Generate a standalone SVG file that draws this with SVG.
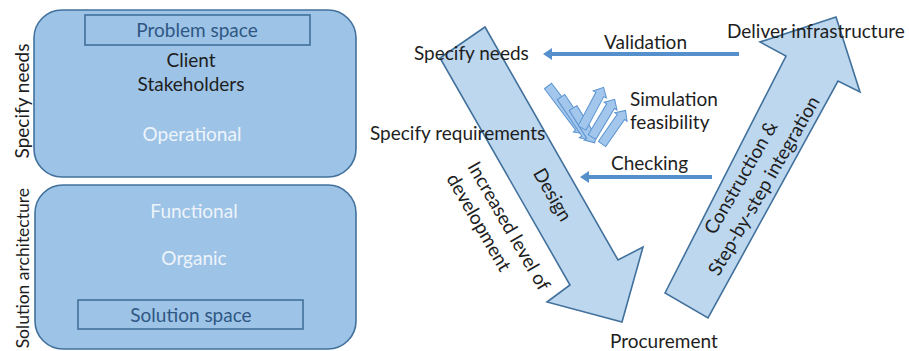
<svg xmlns="http://www.w3.org/2000/svg" width="909" height="351" viewBox="0 0 909 351">
<style>
text{font-family:Lato,"Liberation Sans",sans-serif;font-size:19px;fill:#1e1e1e}
.box{fill:#9dc3e6;stroke:#41719c;stroke-width:1.6}
.inner{fill:none;stroke:#41719c;stroke-width:1.6}
.dark{fill:#2f5783}
.white{fill:#eef4fb}
.big{fill:#bdd7ee;stroke:#41719c;stroke-width:1.6;stroke-linejoin:miter}
.small{fill:#a3c7ec;stroke:#5b93d0;stroke-width:1}
.conn{stroke:#5590cc;stroke-width:4;fill:none}
.mid{text-anchor:middle}
.side2{font-size:17.5px}
</style>
<defs>
<marker id="ah" markerUnits="userSpaceOnUse" markerWidth="9" markerHeight="12" refX="0" refY="6" orient="auto" viewBox="0 0 9 12">
<path d="M0,0 L9,6 L0,12 Z" fill="#5590cc"/>
</marker>
</defs>
<g id="needs-box">
<rect class="box" x="34" y="10" width="322" height="167" rx="28"/>
<rect class="inner" x="85" y="15" width="225" height="30"/>
<text class="mid dark" x="197" y="37">Problem space</text>
<text class="mid" x="191" y="67">Client</text>
<text class="mid" x="191" y="91">Stakeholders</text>
<text class="mid white" x="192" y="141">Operational</text>
<text class="mid" transform="translate(29,101) rotate(-90)">Specify needs</text>
</g>
<g id="solution-box">
<rect class="box" x="35" y="185" width="321" height="164" rx="28"/>
<text class="mid white" x="194" y="218">Functional</text>
<text class="mid white" x="194" y="265">Organic</text>
<rect class="inner" x="78" y="300" width="225" height="29"/>
<text class="mid dark" x="191" y="322">Solution space</text>
<text class="side2" text-anchor="end" transform="translate(29,188) rotate(-90)">Solution architecture</text>
</g>
<g id="design-arrow">
<polygon class="big" points="485,27 618,260 643,247 622,322 547,302 570,285 440,58"/>
<text transform="translate(547,198) rotate(60)" class="mid">Design</text>
<text transform="translate(467,166.5) rotate(60)">Increased level of</text>
<text transform="translate(446,178.5) rotate(60)">development</text>
</g>
<g id="construction-arrow">
<polygon class="big" points="665,293 786,56 760,42 836,17 860,92 838,81 708,318"/>
<text class="mid" transform="translate(746.6,180.8) rotate(-60)">Construction &amp;</text>
<text class="mid" transform="translate(769.6,189) rotate(-60)">Step-by-step integration</text>
</g>
<g id="simulation">
<path class="small" transform="translate(548,86) rotate(53)" d="M0,-4.5 H52 V-7.5 L60,0 L52,7.5 V4.5 H0 Z"/>
<path class="small" transform="translate(561,97) rotate(56)" d="M0,-4.5 H44 V-7.5 L52,0 L44,7.5 V4.5 H0 Z"/>
<path class="small" transform="translate(573,108) rotate(58)" d="M0,-4.5 H33 V-7.5 L41,0 L33,7.5 V4.5 H0 Z"/>
<path class="small" transform="translate(582,128) rotate(-62)" d="M0,-4.5 H38 V-7.5 L46,0 L38,7.5 V4.5 H0 Z"/>
<path class="small" transform="translate(592,137) rotate(-59)" d="M0,-4.5 H36 V-7.5 L44,0 L36,7.5 V4.5 H0 Z"/>
<path class="small" transform="translate(602,144) rotate(-55)" d="M0,-4.5 H33 V-7.5 L41,0 L33,7.5 V4.5 H0 Z"/>
<text x="630" y="106">Simulation</text>
<text x="630" y="129">feasibility</text>
</g>
<g id="labels">
<text x="414" y="60">Specify needs</text>
<text x="370" y="140">Specify requirements</text>
<text x="727" y="38">Deliver infrastructure</text>
<text x="610" y="348">Procurement</text>
</g>
<g id="connectors">
<path class="conn" d="M739,54 H552" marker-end="url(#ah)"/>
<text x="604" y="49">Validation</text>
<path class="conn" d="M712,177 H589" marker-end="url(#ah)"/>
<text x="611" y="170">Checking</text>
</g>
</svg>
